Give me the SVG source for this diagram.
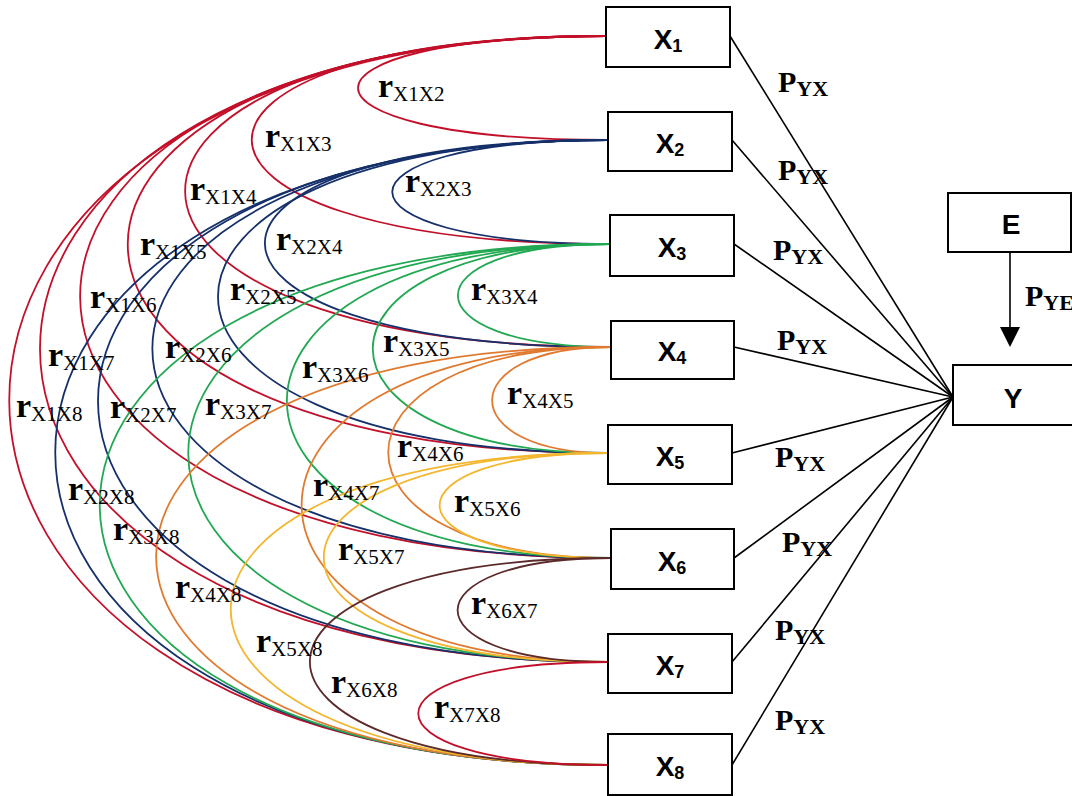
<svg xmlns="http://www.w3.org/2000/svg" width="1072" height="796" viewBox="0 0 1072 796">
<style>
.box{fill:#fff;stroke:#000;stroke-width:2}
.bl{font-family:"Liberation Sans",Arial,sans-serif;font-weight:bold;font-size:28px;fill:#000}
.bs{font-size:18px}
.c{fill:none;stroke-width:1.8}
.r1{stroke:#C3102A}.r2{stroke:#15306A}.r3{stroke:#22A852}.r4{stroke:#E07A30}.r5{stroke:#F3B62E}.r6{stroke:#5C2A2A}.r7{stroke:#C3102A}
.pl{stroke:#000;stroke-width:1.6;fill:none}
.pt{font-family:"Liberation Serif","Times New Roman",serif;font-weight:bold;font-size:30px;fill:#000}
.ps{font-size:22px}
.rt{font-family:"Liberation Serif","Times New Roman",serif;font-weight:bold;font-size:34px;fill:#000}
.rs{font-size:21px;font-weight:normal}
</style>
<g id="connectors">
<path class="c r1" d="M606 36 C275 36 275 140 608 140"/>
<path class="c r1" d="M606 36 C133 36 133 244 610 244"/>
<path class="c r1" d="M606 36 C44 36 44 347 611 347"/>
<path class="c r1" d="M606 36 C-32 36 -32 453 608 453"/>
<path class="c r1" d="M606 36 C-96 36 -96 558 611 558"/>
<path class="c r1" d="M606 36 C-149 36 -149 662 608 662"/>
<path class="c r1" d="M606 36 C-190 36 -190 765 608 765"/>
<path class="c r2" d="M608 140 C320 140 320 244 610 244"/>
<path class="c r2" d="M608 140 C150 140 150 347 611 347"/>
<path class="c r2" d="M608 140 C88 140 88 453 608 453"/>
<path class="c r2" d="M608 140 C0 140 0 558 611 558"/>
<path class="c r2" d="M608 140 C-72 140 -72 662 608 662"/>
<path class="c r2" d="M608 140 C-129 140 -129 765 608 765"/>
<path class="c r3" d="M610 244 C407 244 407 347 611 347"/>
<path class="c r3" d="M610 244 C294 244 294 453 608 453"/>
<path class="c r3" d="M610 244 C179 244 179 558 611 558"/>
<path class="c r3" d="M610 244 C48 244 48 662 608 662"/>
<path class="c r3" d="M610 244 C-70 244 -70 765 608 765"/>
<path class="c r4" d="M611 347 C453 347 453 453 608 453"/>
<path class="c r4" d="M611 347 C314 347 314 558 611 558"/>
<path class="c r4" d="M611 347 C199 347 199 662 608 662"/>
<path class="c r4" d="M611 347 C5 347 5 765 608 765"/>
<path class="c r5" d="M608 453 C383 453 383 558 611 558"/>
<path class="c r5" d="M608 453 C229 453 229 662 608 662"/>
<path class="c r5" d="M608 453 C105 453 105 765 608 765"/>
<path class="c r6" d="M611 558 C407 558 407 662 608 662"/>
<path class="c r6" d="M611 558 C210 558 210 765 608 765"/>
<path class="c r7" d="M608 662 C355 662 355 765 608 765"/>
<path class="pl" d="M730 36 L953 397"/>
<path class="pl" d="M732 140 L953 397"/>
<path class="pl" d="M734 244 L953 397"/>
<path class="pl" d="M734 347 L953 397"/>
<path class="pl" d="M732 453 L953 397"/>
<path class="pl" d="M734 558 L953 397"/>
<path class="pl" d="M732 662 L953 397"/>
<path class="pl" d="M732 765 L953 397"/>
<path class="pl" d="M1010 252 L1010 328"/>
<polygon points="1000,327 1020,327 1010,347" fill="#000"/>
</g>
<g id="labels">
<text class="rt" x="378" y="97">r<tspan class="rs" dy="4">X1X2</tspan></text>
<text class="rt" x="265" y="147">r<tspan class="rs" dy="4">X1X3</tspan></text>
<text class="rt" x="190" y="200">r<tspan class="rs" dy="4">X1X4</tspan></text>
<text class="rt" x="140" y="255">r<tspan class="rs" dy="4">X1X5</tspan></text>
<text class="rt" x="90" y="308">r<tspan class="rs" dy="4">X1X6</tspan></text>
<text class="rt" x="48" y="366">r<tspan class="rs" dy="4">X1X7</tspan></text>
<text class="rt" x="16" y="417">r<tspan class="rs" dy="4">X1X8</tspan></text>
<text class="rt" x="405" y="192">r<tspan class="rs" dy="4">X2X3</tspan></text>
<text class="rt" x="276" y="250">r<tspan class="rs" dy="4">X2X4</tspan></text>
<text class="rt" x="230" y="300">r<tspan class="rs" dy="4">X2X5</tspan></text>
<text class="rt" x="165" y="358">r<tspan class="rs" dy="4">X2X6</tspan></text>
<text class="rt" x="110" y="418">r<tspan class="rs" dy="4">X2X7</tspan></text>
<text class="rt" x="68" y="500">r<tspan class="rs" dy="4">X2X8</tspan></text>
<text class="rt" x="471" y="300">r<tspan class="rs" dy="4">X3X4</tspan></text>
<text class="rt" x="383" y="352">r<tspan class="rs" dy="4">X3X5</tspan></text>
<text class="rt" x="302" y="378">r<tspan class="rs" dy="4">X3X6</tspan></text>
<text class="rt" x="205" y="415">r<tspan class="rs" dy="4">X3X7</tspan></text>
<text class="rt" x="113" y="540">r<tspan class="rs" dy="4">X3X8</tspan></text>
<text class="rt" x="507" y="404">r<tspan class="rs" dy="4">X4X5</tspan></text>
<text class="rt" x="397" y="457">r<tspan class="rs" dy="4">X4X6</tspan></text>
<text class="rt" x="313" y="496">r<tspan class="rs" dy="4">X4X7</tspan></text>
<text class="rt" x="175" y="598">r<tspan class="rs" dy="4">X4X8</tspan></text>
<text class="rt" x="454" y="512">r<tspan class="rs" dy="4">X5X6</tspan></text>
<text class="rt" x="338" y="560">r<tspan class="rs" dy="4">X5X7</tspan></text>
<text class="rt" x="256" y="652">r<tspan class="rs" dy="4">X5X8</tspan></text>
<text class="rt" x="471" y="614">r<tspan class="rs" dy="4">X6X7</tspan></text>
<text class="rt" x="331" y="693">r<tspan class="rs" dy="4">X6X8</tspan></text>
<text class="rt" x="434" y="718">r<tspan class="rs" dy="4">X7X8</tspan></text>
<text class="pt" x="778" y="92">P<tspan class="ps" dy="4">YX</tspan></text>
<text class="pt" x="778" y="180">P<tspan class="ps" dy="4">YX</tspan></text>
<text class="pt" x="773" y="260">P<tspan class="ps" dy="4">YX</tspan></text>
<text class="pt" x="777" y="350">P<tspan class="ps" dy="4">YX</tspan></text>
<text class="pt" x="775" y="467">P<tspan class="ps" dy="4">YX</tspan></text>
<text class="pt" x="782" y="552">P<tspan class="ps" dy="4">YX</tspan></text>
<text class="pt" x="775" y="640">P<tspan class="ps" dy="4">YX</tspan></text>
<text class="pt" x="775" y="730">P<tspan class="ps" dy="4">YX</tspan></text>
<text class="pt" x="1025" y="306">P<tspan class="ps" dy="4">YE</tspan></text>
</g>
<g id="X1"><rect class="box" x="606" y="7" width="124" height="60"/><text class="bl" x="668" y="49" text-anchor="middle">X<tspan class="bs" dy="3">1</tspan></text></g>
<g id="X2"><rect class="box" x="608" y="112" width="124" height="59"/><text class="bl" x="670" y="153" text-anchor="middle">X<tspan class="bs" dy="3">2</tspan></text></g>
<g id="X3"><rect class="box" x="610" y="215" width="124" height="61"/><text class="bl" x="672" y="257" text-anchor="middle">X<tspan class="bs" dy="3">3</tspan></text></g>
<g id="X4"><rect class="box" x="611" y="321" width="123" height="58"/><text class="bl" x="672" y="361" text-anchor="middle">X<tspan class="bs" dy="3">4</tspan></text></g>
<g id="X5"><rect class="box" x="608" y="425" width="124" height="59"/><text class="bl" x="670" y="466" text-anchor="middle">X<tspan class="bs" dy="3">5</tspan></text></g>
<g id="X6"><rect class="box" x="611" y="529" width="123" height="60"/><text class="bl" x="672" y="571" text-anchor="middle">X<tspan class="bs" dy="3">6</tspan></text></g>
<g id="X7"><rect class="box" x="608" y="634" width="124" height="59"/><text class="bl" x="670" y="675" text-anchor="middle">X<tspan class="bs" dy="3">7</tspan></text></g>
<g id="X8"><rect class="box" x="608" y="734" width="124" height="61"/><text class="bl" x="670" y="776" text-anchor="middle">X<tspan class="bs" dy="3">8</tspan></text></g>
<g id="E"><rect class="box" x="948" y="193" width="123" height="59"/><text class="bl" x="1011" y="234" text-anchor="middle">E</text></g>
<g id="Y"><rect class="box" x="953" y="365" width="126" height="60"/><text class="bl" x="1013" y="408" text-anchor="middle">Y</text></g>
</svg>
